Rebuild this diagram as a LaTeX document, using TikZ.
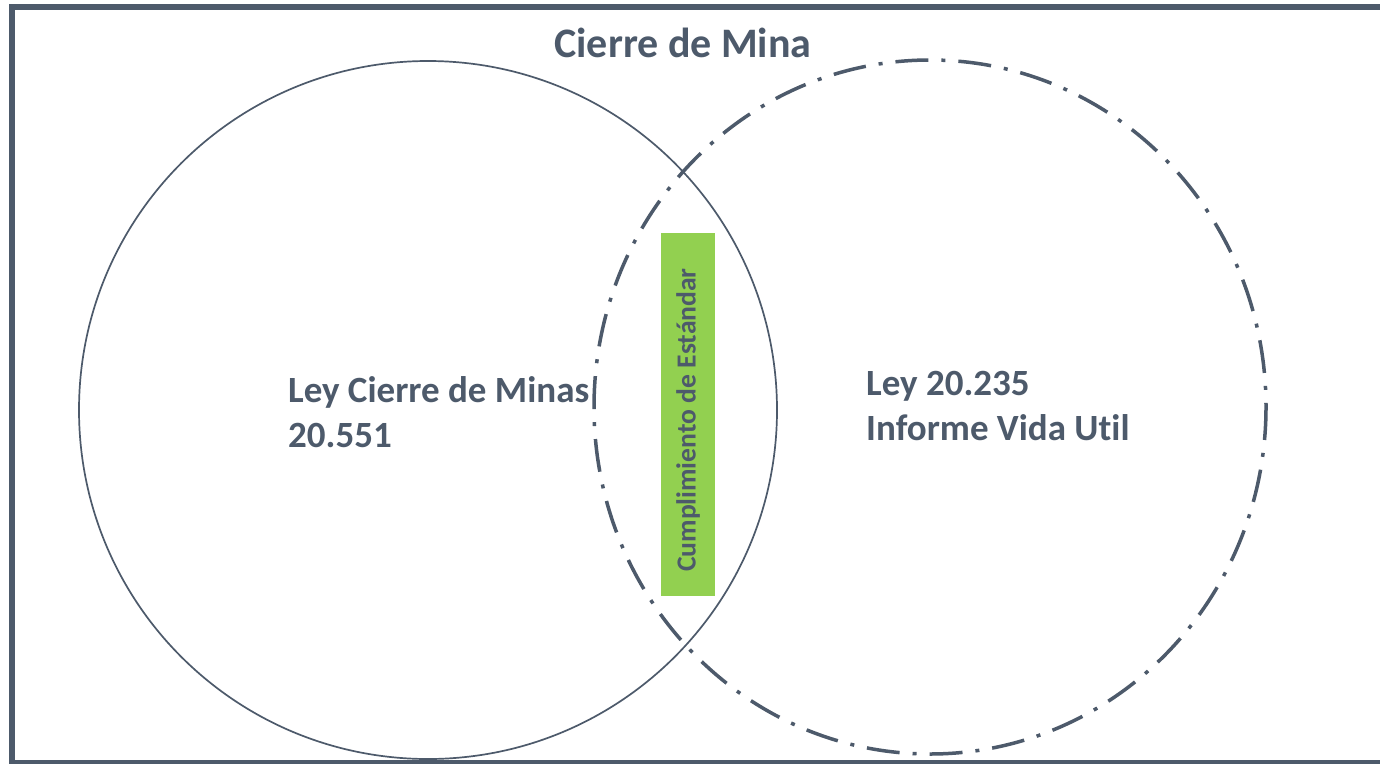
\documentclass[tikz,border=0pt]{standalone}
\usepackage{fontspec}
\setmainfont{Carlito}[Ligatures=NoCommon]
\definecolor{slate}{HTML}{4D5A6B}
\definecolor{leaf}{HTML}{92D050}
\tikzset{
  frameline/.style={draw=slate, line width=6pt},
  solidset/.style={draw=slate, line width=1.7pt},
  dashset/.style={draw=slate, line width=3.5pt, dash pattern=on 33pt off 13pt on 4pt off 13pt},
  bar/.style={fill=leaf, draw=none, minimum width=54pt, minimum height=363pt, inner sep=0pt},
  lbl/.style={text=slate, font=\bfseries\fontsize{37}{45}\selectfont, align=left, inner sep=0pt},
}
\begin{document}
\begin{tikzpicture}[x=1pt,y=-1pt]
\useasboundingbox (0,0) rectangle (1380,763);
\clip (0,0) rectangle (1380,763);
\fill[white] (0,0) rectangle (1380,763);
\draw[frameline] (12,7) rectangle (1395,763);
\node[text=slate, font=\bfseries\fontsize{42}{50}\selectfont, anchor=base, inner sep=0pt] (title) at (683,57) {Cierre de Mina};
\draw[solidset] (428,410) circle [radius=349];
\draw[dashset] (930,407) ellipse [x radius=336, y radius=347];
\node[bar] (bar) at (688,414.5) {};
\node[text=slate, font=\bfseries\fontsize{27.6}{33}\selectfont, rotate=90, inner sep=0pt] (std) at (688,420) {Cumplimiento de Estándar};
\node[lbl, anchor=north west] (left) at (288,376) {Ley Cierre de Minas\\20.551};
\node[lbl, anchor=north west] (right) at (866,371) {Ley 20.235\\Informe Vida Util};
\end{tikzpicture}
\end{document}
